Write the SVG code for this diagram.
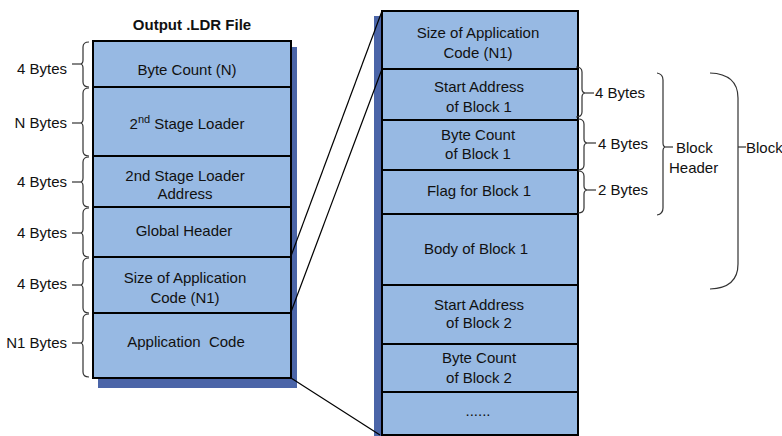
<svg xmlns="http://www.w3.org/2000/svg" width="782" height="436" viewBox="0 0 782 436">
  <style>
    .cell { fill: #97B9E3; stroke: #000; stroke-width: 2; }
    .shadow { fill: #4B65A8; }
    .t { font-family: "Liberation Sans", Arial, sans-serif; font-size: 15px; fill: #111; text-anchor: middle; dominant-baseline: central; transform: translateY(-1px); }
    .lbl { font-family: "Liberation Sans", Arial, sans-serif; font-size: 15px; fill: #111; dominant-baseline: central; transform: translateY(-1px); }
    .brace { fill: none; stroke: #333; stroke-width: 1.2; }
    .conn { fill: none; stroke: #000; stroke-width: 1.2; }
  </style>
  <rect width="782" height="436" fill="#fff"/>

  <!-- title -->
  <text class="t" x="192" y="25" font-weight="bold">Output .LDR File</text>

  <!-- shadows -->
  <rect class="shadow" x="98" y="47" width="199" height="341"/>
  <rect class="shadow" x="374" y="16" width="10" height="420"/>

  <!-- connectors between the two layouts -->
  <g id="connectors">
    <line class="conn" x1="291" y1="256" x2="382" y2="11"/>
    <line class="conn" x1="291" y1="312" x2="382" y2="69"/>
    <line class="conn" x1="291" y1="378" x2="380" y2="435"/>
  </g>

  <!-- left: output file layout -->
  <g id="byte-count">
    <rect class="cell" x="93" y="41" width="198" height="46"/>
    <text class="t" x="187" y="70">Byte Count (N)</text>
  </g>
  <g id="stage2-loader">
    <rect class="cell" x="93" y="87" width="198" height="69"/>
    <text class="t" x="187" y="124">2<tspan font-size="11" dy="-4">nd</tspan><tspan dy="4"> Stage Loader</tspan></text>
  </g>
  <g id="stage2-address">
    <rect class="cell" x="93" y="156" width="198" height="51"/>
    <text class="t" x="185" y="176">2nd Stage Loader</text>
    <text class="t" x="185" y="194">Address</text>
  </g>
  <g id="global-header">
    <rect class="cell" x="93" y="207" width="198" height="50"/>
    <text class="t" x="184" y="231">Global Header</text>
  </g>
  <g id="app-size">
    <rect class="cell" x="93" y="257" width="198" height="56"/>
    <text class="t" x="185" y="278">Size of Application</text>
    <text class="t" x="185" y="298">Code (N1)</text>
  </g>
  <g id="app-code">
    <rect class="cell" x="93" y="313" width="198" height="65"/>
    <text class="t" x="186" y="342">Application&#160; Code</text>
  </g>

  <!-- left size braces -->
  <g id="left-sizes">
    <path class="brace" d="M89 42 Q83 42 83 47 L83 60 Q83 64 80 64 Q83 64 83 68 L83 82 Q83 87 89 87"/>
    <line class="brace" x1="72" y1="64" x2="80" y2="64"/>
    <text class="lbl" x="67" y="69" text-anchor="end">4 Bytes</text>

    <path class="brace" d="M89 88 Q83 88 83 93 L83 119 Q83 123 80 123 Q83 123 83 127 L83 151 Q83 156 89 156"/>
    <line class="brace" x1="72" y1="123" x2="80" y2="123"/>
    <text class="lbl" x="67" y="123" text-anchor="end">N Bytes</text>

    <path class="brace" d="M89 157 Q83 157 83 162 L83 178 Q83 182 80 182 Q83 182 83 186 L83 202 Q83 207 89 207"/>
    <line class="brace" x1="72" y1="182" x2="80" y2="182"/>
    <text class="lbl" x="67" y="182" text-anchor="end">4 Bytes</text>

    <path class="brace" d="M89 208 Q83 208 83 213 L83 229 Q83 233 80 233 Q83 233 83 237 L83 252 Q83 257 89 257"/>
    <line class="brace" x1="72" y1="233" x2="80" y2="233"/>
    <text class="lbl" x="67" y="233" text-anchor="end">4 Bytes</text>

    <path class="brace" d="M89 258 Q83 258 83 263 L83 281 Q83 285 80 285 Q83 285 83 289 L83 308 Q83 313 89 313"/>
    <line class="brace" x1="72" y1="285" x2="80" y2="285"/>
    <text class="lbl" x="67" y="284" text-anchor="end">4 Bytes</text>

    <path class="brace" d="M89 314 Q83 314 83 319 L83 339 Q83 343 80 343 Q83 343 83 347 L83 372 Q83 377 89 377"/>
    <line class="brace" x1="72" y1="343" x2="80" y2="343"/>
    <text class="lbl" x="67" y="343" text-anchor="end">N1 Bytes</text>
  </g>

  <!-- right: application code layout -->
  <g id="r-app-size">
    <rect class="cell" x="382" y="11" width="196" height="58"/>
    <text class="t" x="478" y="33">Size of Application</text>
    <text class="t" x="478" y="53">Code (N1)</text>
  </g>
  <g id="r-start1">
    <rect class="cell" x="382" y="69" width="196" height="51"/>
    <text class="t" x="479" y="87">Start Address</text>
    <text class="t" x="479" y="107">of Block 1</text>
  </g>
  <g id="r-count1">
    <rect class="cell" x="382" y="120" width="196" height="50"/>
    <text class="t" x="478" y="135">Byte Count</text>
    <text class="t" x="478" y="154">of Block 1</text>
  </g>
  <g id="r-flag1">
    <rect class="cell" x="382" y="170" width="196" height="44"/>
    <text class="t" x="479" y="191">Flag for Block 1</text>
  </g>
  <g id="r-body1">
    <rect class="cell" x="382" y="214" width="196" height="71"/>
    <text class="t" x="476" y="249">Body of Block 1</text>
  </g>
  <g id="r-start2">
    <rect class="cell" x="382" y="285" width="196" height="59"/>
    <text class="t" x="479" y="305">Start Address</text>
    <text class="t" x="479" y="323">of Block 2</text>
  </g>
  <g id="r-count2">
    <rect class="cell" x="382" y="344" width="196" height="48"/>
    <text class="t" x="479" y="358">Byte Count</text>
    <text class="t" x="479" y="378">of Block 2</text>
  </g>
  <g id="r-more">
    <rect class="cell" x="382" y="392" width="196" height="43"/>
    <text class="t" x="478" y="411">......</text>
  </g>

  <!-- right size braces -->
  <g id="right-sizes">
    <path class="brace" d="M576 67 Q582 67 582 72 L582 89 Q582 93 586 93 Q582 93 582 97 L582 112 Q582 117 576 117"/>
    <line class="brace" x1="586" y1="93" x2="594" y2="93"/>
    <text class="lbl" x="595" y="93">4 Bytes</text>

    <path class="brace" d="M578 119 Q584 119 584 124 L584 139 Q584 143 588 143 Q584 143 584 147 L584 165 Q584 170 578 170"/>
    <line class="brace" x1="588" y1="143" x2="596" y2="143"/>
    <text class="lbl" x="598" y="144">4 Bytes</text>

    <path class="brace" d="M578 171 Q584 171 584 176 L584 186 Q584 190 588 190 Q584 190 584 194 L584 208 Q584 213 578 213"/>
    <line class="brace" x1="588" y1="190" x2="596" y2="190"/>
    <text class="lbl" x="598" y="190">2 Bytes</text>
  </g>
  <g id="block-header">
    <path class="brace" d="M657 73 Q663 74 663 80 L663 143 Q663 147 666 147 Q663 147 663 151 L663 208 Q663 214 657 215"/>
    <line class="brace" x1="666" y1="147" x2="673" y2="147"/>
    <text class="lbl" x="676" y="148">Block</text>
    <text class="lbl" x="669" y="168">Header</text>
  </g>
  <g id="block">
    <path class="brace" d="M710 73 Q738 74 738 98 L738 264 Q738 288 710 289"/>
    <line class="brace" x1="738" y1="147" x2="746" y2="147"/>
    <text class="lbl" x="746" y="148">Block</text>
  </g>
</svg>
